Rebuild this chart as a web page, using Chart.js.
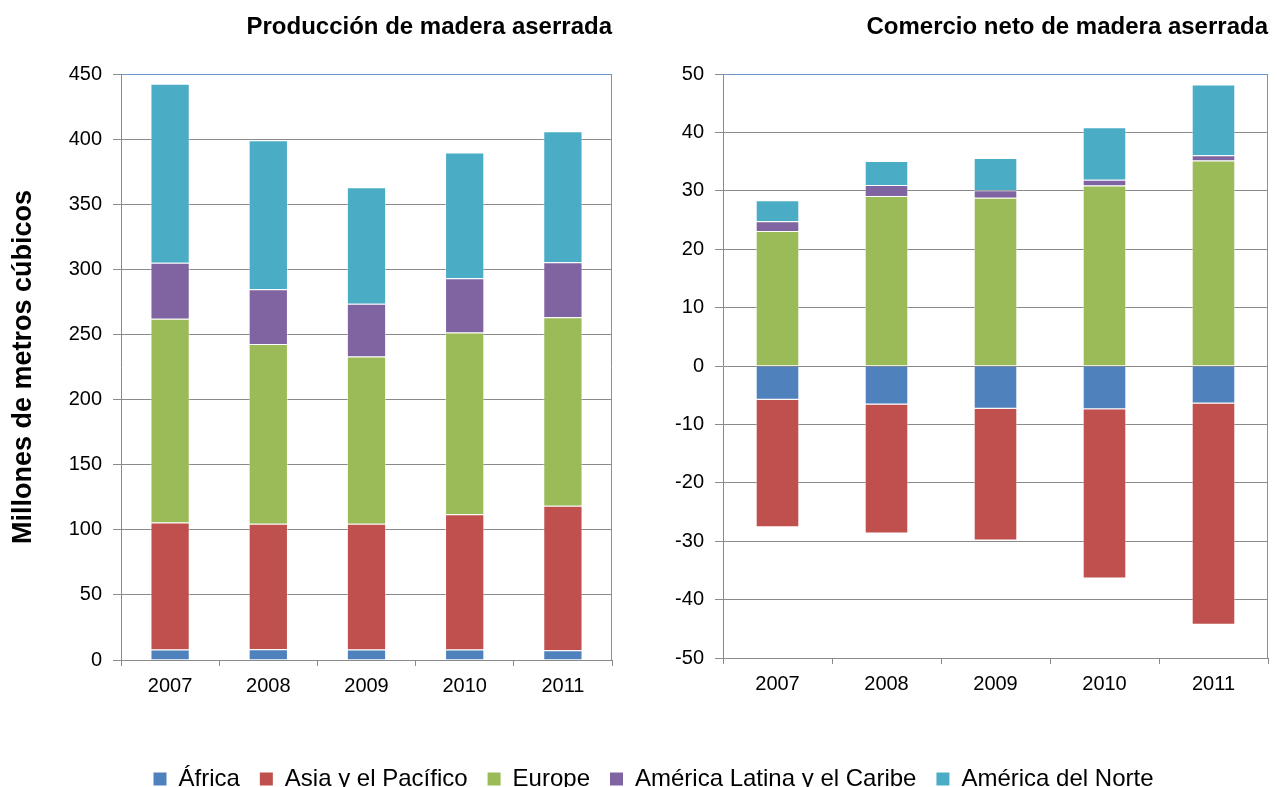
<!DOCTYPE html>
<html><head><meta charset="utf-8">
<script src="https://cdn.jsdelivr.net/npm/chart.js@4.4.1/dist/chart.umd.min.js"></script>
<style>
html,body{margin:0;padding:0;background:#fff;width:1277px;height:787px;overflow:hidden;position:relative;}
canvas{position:absolute;}
</style></head><body>
<canvas id="c1" width="640" height="720" style="left:0;top:0"></canvas>
<canvas id="c2" width="637" height="720" style="left:640px;top:0"></canvas>
<canvas id="c3" width="1277" height="100" style="left:0;top:747px"></canvas>
<script>
const years = ['2007', '2008', '2009', '2010', '2011'];
const seriesNames = ['África', 'Asia y el Pacífico', 'Europe', 'América Latina y el Caribe', 'América del Norte'];
const colors = ['#4F81BD', '#C0504D', '#9BBB59', '#8064A2', '#4BACC6'];

// Producción de madera aserrada (millones m3)
const prodAfrica   = [8, 8.2, 8, 8, 7.5];
const prodAsia     = [97.5, 96.5, 96.7, 103.9, 111];
const prodEurope   = [156.5, 138, 128.3, 139.5, 144.7];
const prodLatAm    = [43, 42, 40.6, 41.7, 42.2];
const prodNorthAm  = [137.5, 114.4, 89.4, 96.6, 100.6];

// Comercio neto de madera aserrada (millones m3)
const tradeAfrica  = [-5.8, -6.6, -7.3, -7.4, -6.4];
const tradeAsia    = [-21.8, -22.1, -22.6, -29.0, -37.9];
const tradeEurope  = [23.1, 29.1, 28.8, 30.9, 35.2];
const tradeLatAm   = [1.7, 1.9, 1.3, 1.0, 0.9];
const tradeNorthAm = [3.6, 4.1, 5.5, 9.0, 12.1];

const prodTicks = {min: 0, max: 450, step: 50};
const tradeTicks = {min: -50, max: 50, step: 10};

const FAMILY = "'Liberation Sans', Arial, Helvetica, sans-serif";
const GRID = '#8a8a8a';

const frame = {
  id: 'frame',
  afterDatasetsDraw(chart) {
    const {ctx, chartArea: a} = chart;
    ctx.save();
    ctx.strokeStyle = '#6f95c9';
    ctx.lineWidth = 1;
    ctx.beginPath();
    ctx.moveTo(a.left, Math.round(a.top) + 0.5);
    ctx.lineTo(Math.round(a.right) - 0.5, Math.round(a.top) + 0.5);
    ctx.lineTo(Math.round(a.right) - 0.5, a.bottom);
    ctx.stroke();
    ctx.restore();
  }
};

function makeDatasets(arrs) {
  return arrs.map((d, i) => ({
    label: seriesNames[i],
    data: d,
    backgroundColor: colors[i],
    borderColor: 'rgba(255,255,255,0.45)',
    borderWidth: 1,
    categoryPercentage: 1,
    barPercentage: 0.4
  }));
}

function makeChart(el, arrs, title, tk, opts) {
  return new Chart(el, {
    type: 'bar',
    data: {labels: years, datasets: makeDatasets(arrs)},
    plugins: [frame],
    options: {
      responsive: false,
      animation: false,
      layout: {padding: opts.padding},
      plugins: {
        legend: {display: false},
        tooltip: {enabled: false},
        title: {
          display: true,
          text: title,
          align: 'end',
          color: '#000',
          font: {family: FAMILY, size: 24, weight: 'bold'},
          padding: {top: 12.6, bottom: 32.6}
        }
      },
      scales: {
        x: {
          stacked: true,
          afterFit: s => { s.height = 40; },
          grid: {display: true, drawOnChartArea: false, drawTicks: true, tickLength: 6, offset: true, color: GRID},
          border: {display: true, color: GRID},
          ticks: {color: '#000', padding: 8, font: {family: FAMILY, size: 20}}
        },
        y: {
          stacked: true,
          min: tk.min, max: tk.max,
          afterFit: s => { s.width = opts.yWidth; },
          grid: {color: GRID, tickLength: 8, drawTicks: true},
          border: {display: true, color: GRID},
          ticks: {stepSize: tk.step, color: '#000', padding: 11, font: {family: FAMILY, size: 20}},
          title: opts.yTitle ? {
            display: true, text: opts.yTitle, color: '#000',
            font: {family: FAMILY, size: 27, weight: 'bold'},
            padding: {top: 7, bottom: 0}
          } : {display: false}
        }
      }
    }
  });
}

makeChart(document.getElementById('c1'),
  [prodAfrica, prodAsia, prodEurope, prodLatAm, prodNorthAm],
  'Producción de madera aserrada', prodTicks,
  {padding: {left: 0, right: 28, top: 0, bottom: 20}, yWidth: 121, yTitle: 'Millones de metros cúbicos'});

makeChart(document.getElementById('c2'),
  [tradeAfrica, tradeAsia, tradeEurope, tradeLatAm, tradeNorthAm],
  'Comercio neto de madera aserrada', tradeTicks,
  {padding: {left: 0, right: 9, top: 0, bottom: 22}, yWidth: 83});

new Chart(document.getElementById('c3'), {
  type: 'bar',
  data: {labels: [], datasets: seriesNames.map((n, i) => ({label: n, data: [], backgroundColor: colors[i], borderWidth: 0}))},
  options: {
    responsive: false,
    animation: false,
    layout: {padding: {left: 30}},
    scales: {x: {display: false}, y: {display: false}},
    plugins: {
      tooltip: {enabled: false},
      legend: {
        position: 'top',
        maxHeight: 100,
        onClick: null,
        labels: {boxWidth: 13, boxHeight: 13, padding: 20, color: '#000', font: {family: FAMILY, size: 24}}
      }
    }
  }
});
</script>
</body></html>
